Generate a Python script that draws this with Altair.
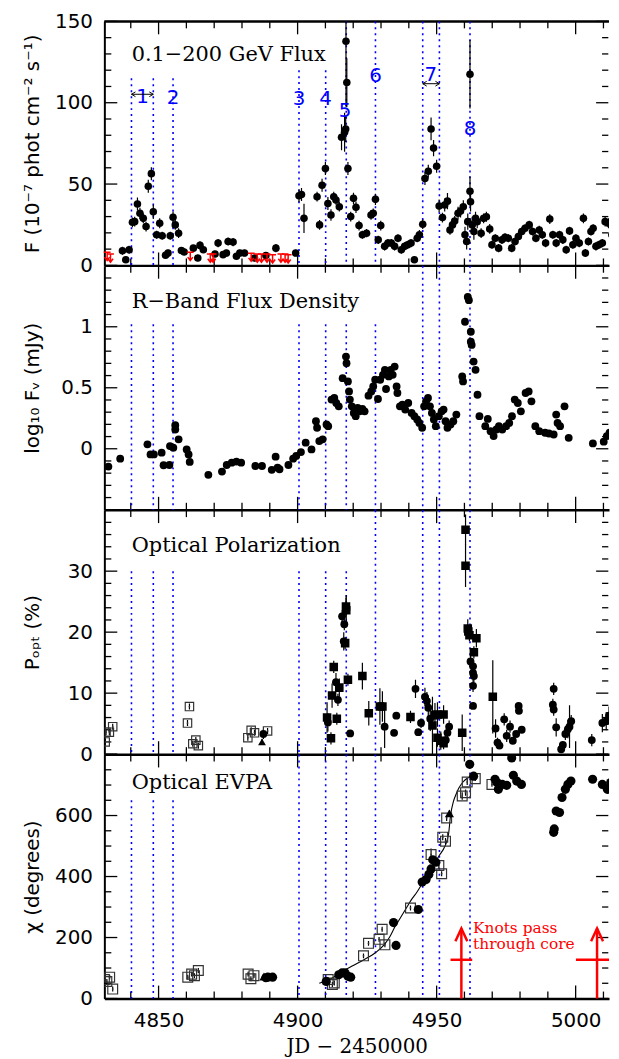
import altair as alt
import pandas as pd

# ---------------- data ----------------
GAM_JD = [4837.0, 4838.2, 4839.4, 4840.6, 4841.4, 4842.4, 4843.3, 4844.5, 4845.5, 4846.3,
          4847.4, 4848.1, 4849.3, 4850.4, 4851.3, 4852.5, 4853.4, 4854.2, 4855.2, 4856.0,
          4857.2, 4858.2, 4859.2, 4862.5, 4864.1, 4864.9, 4866.1, 4870.3, 4871.4, 4873.2,
          4874.4, 4875.0, 4876.8, 4878.0, 4879.2, 4880.9, 4884.5, 4888.6, 4892.2, 4899.3,
          4900.5, 4901.4, 4902.3, 4907.0, 4907.9, 4908.8, 4910.0, 4910.9, 4912.0, 4913.0,
          4913.8, 4915.0, 4915.8, 4916.9, 4917.3, 4917.7, 4917.4, 4918.1, 4919.1, 4920.1,
          4921.0, 4922.1, 4923.3, 4924.8, 4926.4, 4927.2, 4928.0, 4929.0, 4929.9, 4931.3,
          4932.5, 4933.7, 4934.9, 4936.1, 4937.3, 4938.5, 4939.6, 4940.8, 4942.0, 4943.0,
          4943.8, 4945.0, 4945.8, 4947.0, 4948.0, 4948.9, 4950.0, 4950.9, 4952.1, 4952.9,
          4953.9, 4954.8, 4955.7, 4956.5, 4957.7, 4958.6, 4959.6, 4960.2, 4960.8, 4961.2,
          4962.0, 4962.0, 4962.2, 4962.8, 4963.4, 4964.0, 4964.6, 4966.0, 4966.9, 4967.9,
          4969.1, 4969.9, 4971.1, 4972.3, 4973.5, 4974.6, 4975.8, 4977.0, 4978.2, 4979.4,
          4980.6, 4981.8, 4983.3, 4984.5, 4985.7, 4986.9, 4988.0, 4989.2, 4990.7, 4991.8,
          4993.0, 4994.2, 4995.4, 4996.6, 4997.8, 4999.0, 5000.1, 5001.3, 5002.8, 5003.5,
          5004.6, 5005.5, 5006.3, 5007.3, 5008.4, 5009.6, 5010.6, 5011.8, 5013.0, 5013.8]
GAM_F = [9.0, 3.5, 9.6, 26.5, 26.9, 37.7, 32.0, 28.9, 23.9, 48.7,
         56.4, 33.0, 18.8, 25.9, 18.2, 6.2, 7.6, 18.2, 29.6, 24.9,
         19.8, 9.2, 8.2, 10.6, 4.5, 12.3, 9.6, 7.0, 13.7, 6.6,
         7.6, 14.7, 14.3, 5.6, 7.6, 7.6, 4.5, 6.0, 10.6, 7.6,
         42.8, 43.6, 28.9, 42.2, 24.9, 49.3, 59.5, 38.1, 31.0, 42.2,
         40.2, 36.1, 78.8, 81.9, 83.9, 112.4, 137.8, 59.5, 30.0, 41.2,
         35.7, 24.5, 18.8, 19.8, 31.0, 32.0, 40.6, 15.7, 24.5, 11.7,
         13.7, 13.7, 11.7, 16.7, 9.6, 11.7, 12.7, 13.7, 3.5, 16.7,
         18.8, 25.3, 53.4, 57.9, 83.9, 72.1, 60.9, 36.5, 29.4, 37.1,
         39.5, 21.8, 24.9, 27.3, 32.0, 33.4, 36.1, 18.8, 14.7, 26.9,
         45.6, 117.5, 39.1, 24.9, 20.8, 28.9, 26.9, 19.8, 28.9, 29.9,
         22.4, 12.7, 16.7, 10.6, 15.7, 17.2, 16.7, 10.6, 14.7, 17.8,
         20.8, 22.8, 24.9, 20.8, 16.7, 21.8, 18.8, 13.7, 28.5, 18.8,
         13.7, 18.8, 15.7, 9.6, 21.2, 12.7, 16.7, 13.7, 28.9, 7.6,
         14.7, 20.8, 22.8, 11.7, 12.7, 13.7, 26.9, 25.9, 18.8, 24.9]
GAM_ERR = [2.5, 2, 2.5, 3, 3, 4, 3.5, 3, 3, 4,
           4, 4.5, 2.5, 3, 2.5, 2, 2, 2.5, 3.5, 3,
           3, 2, 2, 2, 2, 2.5, 2, 2, 2.5, 2,
           2, 2.5, 2.5, 2, 2, 2, 2, 2, 2.5, 2,
           4, 4, 9, 3, 3, 4, 4, 4, 3.5, 3,
           3, 3, 8, 12, 8, 15, 40, 4, 3, 3.5,
           3.5, 3, 2.5, 2.5, 3, 3, 3.5, 2.5, 3, 2.5,
           2.5, 2.5, 2.5, 2.5, 2.5, 2.5, 2.5, 2.5, 2, 2.5,
           3, 3, 4, 4, 7, 5, 4, 4, 3, 4,
           5, 3, 3, 3, 4, 4, 4, 5, 5, 5,
           9, 21, 6, 5, 5, 4, 4, 3, 3, 3,
           3, 2.5, 2.5, 2.5, 2.5, 2.5, 2.5, 2.5, 2.5, 2.5,
           2.5, 2.5, 2.5, 2.5, 2.5, 2.5, 2.5, 2.5, 3, 2.5,
           2.5, 2.5, 2.5, 2.5, 2.5, 2.5, 2.5, 2.5, 3, 2.5,
           2.5, 2.5, 2.5, 2.5, 2.5, 2.5, 3, 3, 2.5, 3]
UL_JD = [4831.5, 4832.7, 4861.4, 4868.6, 4869.6, 4883.3, 4885.5, 4887.0, 4889.0,
         4891.0, 4894.0, 4895.5, 4896.6]
UL_F = [8.0, 7.0, 8.0, 7.0, 7.0, 7.5, 7.0, 7.0, 7.0, 6.5, 7.0, 7.0, 6.5]

R_JD = [4831.95, 4836.2, 4846.0, 4847.1, 4848.3, 4851.1, 4851.8, 4853.9, 4854.1, 4855.3,
        4856.0, 4856.0, 4857.2, 4860.1, 4860.8, 4861.2, 4867.9, 4872.8, 4874.5, 4876.3,
        4878.0, 4879.7, 4884.8, 4887.2, 4890.7, 4892.1, 4892.8, 4893.5, 4896.7, 4898.4,
        4899.5, 4901.2, 4902.9, 4905.0, 4906.6, 4907.0, 4907.8, 4909.0, 4910.4, 4911.0,
        4912.2, 4913.2, 4913.9, 4914.8, 4916.2, 4917.4, 4917.6, 4918.1, 4918.5, 4918.8,
        4919.5, 4920.2, 4920.9, 4921.6, 4922.3, 4923.3, 4924.1, 4925.5, 4926.5, 4927.2,
        4927.9, 4928.9, 4929.7, 4930.7, 4931.4, 4931.8, 4932.8, 4933.5, 4934.2, 4934.9,
        4935.6, 4935.9, 4936.8, 4937.7, 4938.7, 4939.8, 4941.0, 4942.0, 4943.0, 4943.8,
        4944.8, 4945.5, 4946.2, 4946.9, 4947.6, 4948.3, 4949.0, 4949.7, 4950.8, 4951.8,
        4952.5, 4953.2, 4953.9, 4955.0, 4956.0, 4957.1, 4959.2, 4959.5, 4960.2, 4961.2,
        4961.6, 4962.3, 4962.3, 4962.6, 4963.3, 4964.0, 4964.7, 4965.4, 4967.5, 4968.4,
        4969.4, 4970.5, 4971.5, 4972.4, 4973.6, 4975.0, 4976.1, 4977.1, 4978.1, 4979.2,
        4980.3, 4982.0, 4983.1, 4984.1, 4985.5, 4986.9, 4989.0, 4990.4, 4992.1, 4993.0,
        4993.5, 4994.4, 4996.0, 4997.5, 5006.2, 5010.1, 5011.2, 5012.2]
R_LOGF = [-0.146, -0.081, 0.036, -0.046, -0.046, -0.032, -0.135, -0.133, 0.022, 0.009,
          0.193, 0.158, 0.077, -0.005, -0.046, -0.108, -0.214, -0.187, -0.133, -0.114,
          -0.105, -0.114, -0.141, -0.141, -0.173, -0.065, -0.154, -0.168, -0.133, -0.081,
          -0.059, -0.027, 0.05, -0.005, 0.226, 0.172, 0.063, 0.077, 0.199, 0.185,
          0.403, 0.416, 0.375, 0.348, 0.579, 0.756, 0.701, 0.552, 0.470, 0.403,
          0.348, 0.294, 0.267, 0.335, 0.307, 0.326, 0.307, 0.435, 0.470, 0.511,
          0.566, 0.408, 0.566, 0.606, 0.647, 0.490, 0.593, 0.647, 0.606, 0.674,
          0.511, 0.457, 0.348, 0.362, 0.321, 0.375, 0.294, 0.267, 0.240, 0.212,
          0.172, 0.348, 0.389, 0.416, 0.348, 0.294, 0.240, 0.185, 0.267, 0.307,
          0.321, 0.226, 0.172, 0.199, 0.226, 0.280, 0.593, 0.552, 1.041, 1.245,
          1.218, 0.959, 0.878, 0.851, 0.715, 0.647, 0.443, 0.267, 0.185, 0.245,
          0.144, 0.104, 0.158, 0.185, 0.158, 0.185, 0.212, 0.267, 0.403, 0.375,
          0.307, 0.457, 0.470, 0.389, 0.185, 0.144, 0.131, 0.125, 0.117, 0.280,
          0.212, 0.185, 0.348, 0.090, 0.044, 0.058, 0.104, 0.131]

# kinds: sq = filled square, ci = filled circle, os = open square, tr = filled triangle
POL_JD = [4830.8, 4831.1, 4832.3, 4833.5, 4860.4, 4861.1, 4862.3, 4863.4, 4864.3, 4882.1,
          4883.3, 4884.5, 4889.2, 4887.7, 4887.2, 4910.6, 4910.9, 4912.0, 4913.0, 4912.4,
          4913.8, 4915.0, 4914.5, 4914.1, 4916.0, 4916.8, 4916.6, 4917.1, 4917.5, 4917.4,
          4918.1, 4918.9, 4923.3, 4925.6, 4929.6, 4930.5, 4931.3, 4934.7, 4935.5, 4940.6,
          4942.4, 4943.4, 4944.4, 4945.8, 4946.5, 4947.0, 4947.7, 4948.5, 4949.4, 4950.3,
          4952.5, 4950.3, 4951.5, 4952.5, 4953.3, 4953.9, 4954.5, 4959.2, 4960.4, 4960.4,
          4961.2, 4961.4, 4961.8, 4964.3, 4963.4, 4962.2, 4963.1, 4963.1, 4963.4, 4963.1,
          4963.1, 4962.2, 4970.2, 4971.2, 4971.9, 4972.6, 4974.3, 4975.2, 4976.4, 4977.4,
          4978.6, 4979.5, 4979.6, 4980.6, 4976.4, 4992.1, 4991.8, 4992.1, 4993.0, 4994.8,
          4995.4, 4996.3, 4997.2, 4997.8, 4998.4, 5005.8, 5009.6, 5011.0, 5012.0]
POL_P = [2.0, 3.6, 3.6, 4.5, 5.1, 7.8, 1.7, 2.3, 1.4, 2.7,
         3.9, 3.5, 3.8, 3.3, 2.0, 6.0, 5.2, 2.6, 14.3, 9.6,
         11.8, 10.9, 8.9, 5.8, 22.6, 21.3, 18.5, 18.2, 23.6, 24.2,
         12.2, 3.4, 12.8, 6.7, 7.8, 7.8, 4.5, 3.5, 6.3, 6.1,
         10.7, 3.6, 5.1, 9.4, 8.7, 7.6, 5.8, 4.7, 6.4, 6.5,
         6.5, 2.7, 2.2, 1.8, 2.3, 3.5, 4.5, 3.5, 36.8, 30.9,
         20.6, 20.1, 19.5, 19.0, 16.7, 15.2, 14.4, 13.3, 12.8, 11.2,
         7.9, -1.2, 9.4, 4.2, 1.9, 1.4, 5.7, 3.0, 4.5, 2.2,
         3.3, 7.9, 7.1, 4.0, -0.7, 10.7, 8.1, 7.3, 4.4, 0.8,
         1.5, 3.3, 4.1, 4.5, 5.4, 2.3, 5.1, 5.4, 6.3]
POL_ERR = [0.5, 0.5, 0.5, 0.5, 0.5, 0.5, 0.5, 0.5, 0.5, 0.5,
           0.5, 0.5, 0.5, 0.8, 0.5, 2.5, 1.5, 1.0, 1.0, 2.0,
           1.5, 1.5, 1.0, 1.0, 1.0, 1.0, 1.5, 1.0, 2.5, 1.5,
           1.0, 0.5, 2.2, 2.0, 3.0, 2.5, 3.5, 0.5, 0.5, 1.0,
           1.5, 0.5, 0.8, 1.5, 1.5, 2.0, 2.0, 4.7, 2.0, 2.0,
           1.5, 1.5, 1.5, 1.0, 1.0, 1.0, 1.0, 3.0, 2.5, 3.5,
           1.5, 1.0, 1.0, 1.5, 1.0, 1.0, 1.0, 1.0, 1.0, 1.0,
           0.5, 0.5, 6.0, 1.5, 0.8, 0.5, 1.0, 1.0, 1.0, 0.5,
           0.5, 0.5, 0.5, 0.5, 0.5, 1.0, 1.0, 1.0, 1.5, 0.5,
           0.5, 1.0, 1.5, 3.5, 1.0, 1.0, 1.5, 1.5, 1.5]
POL_KIND = ["os", "os", "os", "os", "os", "os", "os", "os", "os", "os",
            "os", "os", "os", "ci", "tr", "sq", "ci", "sq", "sq", "sq",
            "ci", "sq", "ci", "sq", "ci", "ci", "ci", "sq", "sq", "sq",
            "sq", "ci", "sq", "sq", "sq", "sq", "ci", "ci", "ci", "sq",
            "ci", "ci", "ci", "ci", "ci", "ci", "ci", "sq", "sq", "sq",
            "sq", "sq", "sq", "sq", "ci", "ci", "ci", "sq", "sq", "sq",
            "sq", "sq", "sq", "sq", "sq", "ci", "ci", "ci", "ci", "ci",
            "ci", "ci", "sq", "ci", "ci", "ci", "ci", "ci", "ci", "ci",
            "ci", "ci", "ci", "ci", "ci", "ci", "ci", "ci", "ci", "ci",
            "ci", "ci", "ci", "ci", "ci", "ci", "ci", "ci", "ci"]

EVPA_JD = [4830.5, 4831.4, 4832.4, 4833.5, 4860.5, 4861.9, 4862.9, 4864.3, 4882.2, 4883.2,
           4884.3, 4887.9, 4888.6, 4889.3, 4891.0, 4910.3, 4911.0, 4912.5, 4913.2, 4914.8,
           4916.0, 4917.1, 4918.1, 4919.1, 4923.7, 4925.5, 4929.3, 4930.4, 4931.4, 4934.5,
           4935.4, 4940.6, 4943.4, 4944.8, 4946.2, 4947.2, 4948.0, 4948.6, 4949.7, 4948.0,
           4950.8, 4951.8, 4952.2, 4953.2, 4953.6, 4954.6, 4959.2, 4960.4, 4961.0, 4961.9,
           4963.3, 4963.9, 4969.9, 4971.0, 4971.7, 4972.2, 4973.6, 4975.2, 4977.0, 4977.6,
           4978.8, 4980.5, 4992.1, 4992.3, 4993.0, 4994.2, 4995.1, 4996.3, 4997.2, 4998.3,
           5006.1, 5009.6, 5011.4, 5012.6]
EVPA_CHI = [62, 56, 70, 31, 70, 80, 75, 92, 80, 65,
            75, 72, 68, 70, 70, 56, 62, 46, 51, 78,
            84, 84, 73, 70, 140, 181, 194, 227, 176, 249,
            174, 297, 292, 382, 390, 407, 425, 455, 447, 472,
            436, 409, 529, 516, 592, 607, 664, 675, 710, 768,
            729, 721, 702, 719, 708, 686, 702, 699, 789, 732,
            713, 702, 545, 556, 615, 610, 659, 686, 702, 713,
            719, 702, 686, 708]
EVPA_ERR = [8, 8, 8, 8, 8, 8, 8, 8, 8, 8,
            8, 8, 5, 5, 5, 8, 8, 8, 8, 6,
            6, 6, 6, 6, 8, 8, 8, 8, 8, 8,
            8, 8, 8, 8, 8, 8, 8, 8, 8, 20,
            12, 8, 10, 10, 10, 10, 12, 10, 10, 8,
            8, 8, 8, 6, 6, 6, 6, 6, 6, 6,
            6, 6, 6, 6, 6, 6, 6, 6, 6, 6,
            6, 6, 6, 6]
EVPA_KIND = ["os", "os", "os", "os", "os", "os", "os", "os", "os", "os",
             "os", "tr", "ci", "ci", "ci", "ci", "os", "os", "os", "ci",
             "ci", "ci", "ci", "ci", "os", "os", "os", "os", "os", "ci",
             "ci", "os", "ci", "ci", "ci", "ci", "ci", "ci", "ci", "os",
             "os", "os", "os", "os", "os", "tr", "os", "os", "os", "ci",
             "ci", "os", "os", "ci", "ci", "ci", "ci", "ci", "ci", "ci",
             "ci", "ci", "ci", "ci", "ci", "ci", "ci", "ci", "ci", "ci",
             "ci", "ci", "ci", "ci"]

CURVE_JD = [4907.8, 4912, 4916, 4920, 4924, 4928, 4931, 4933, 4935, 4937, 4939, 4941, 4943,
            4945, 4947, 4949, 4951, 4953, 4954.3, 4955, 4956, 4957, 4958, 4959.5, 4961, 4962.5]
CURVE_CHI = [50, 65, 88, 108, 128, 150, 175, 200, 235, 265, 295, 325, 350,
             380, 410, 440, 470, 500, 540, 600, 645, 670, 690, 710, 722, 728]

# flare epochs (blue dotted lines) and where they start in each panel
FLARE_JD = [4840.25, 4848.1, 4855.2, 4900.5, 4910.1, 4917.5, 4928.0, 4945.0, 4951.0, 4962.0]
TOP_P1 = [115, 115, 115, 120, 120, 150, 150, 150, 150, 150]
TOP_P2 = [1.02, 1.02, 1.02, 1.02, 1.02, 1.02, 1.02, 1.5, 1.5, 1.5]
TOP_P3 = [30, 30, 30, 30, 30, 30, 40, 40, 40, 40]
TOP_P4 = [650, 650, 650, 800, 800, 800, 800, 800, 800, 800]

FLARE_LABEL = ["1", "2", "3", "4", "5", "6", "7", "8"]
FLARE_LABEL_JD = [4844.2, 4855.2, 4900.5, 4910.1, 4917.1, 4928.0, 4947.9, 4962.0]
FLARE_LABEL_F = [103.6, 102.6, 102.2, 102.2, 95.0, 116.4, 117.0, 83.9]
SPAN_LO = [4840.25, 4945.0]
SPAN_HI = [4848.1, 4951.0]
SPAN_F = [105.2, 111.7]

XDOM = [4830.5, 5012.0]

KNOT_JD = [4958.9, 5007.7]
KNOT_LO = [4955.0, 5000.1]
KNOT_HI = [4962.8, 5012.0]
KNOT_TIP = 230
KNOT_BAR = 127
KNOT_TEXT = ["Knots pass", "through core"]
KNOT_TEXT_JD = [4963.1, 4963.1]
KNOT_TEXT_CHI = [215, 163]

XLAB = [4850, 4900, 4950, 5000]
XMAJ = [4850, 4900, 4950, 5000]
XMIN = [4840, 4860, 4870, 4880, 4890, 4910, 4920, 4930, 4940, 4960, 4970, 4980, 4990, 5010]

W, H = 508, 245.6
SANS = "DejaVu Sans"
SERIF = "DejaVu Serif"
XS = alt.Scale(domain=XDOM, nice=False, zero=False)


def ysc(d):
    return alt.Scale(domain=d, nice=False, zero=False)


def y_axis(title, values, fmt):
    return alt.Axis(title=title, values=values, format=fmt, ticks=False, domain=True,
                    domainColor="black", domainWidth=2, grid=False,
                    labelFont=SANS, labelFontSize=20, labelColor="black",
                    labelPadding=12, labelOverlap=False, labelFlush=False,
                    titleFont=SANS, titleFontSize=20, titleFontWeight="normal",
                    titleColor="black", titlePadding=10, minExtent=52, maxExtent=52)


def x_axis(last):
    if last:
        return alt.Axis(title="JD − 2450000", values=XLAB, format="d", ticks=False,
                        domain=True, domainColor="black", domainWidth=2.5, grid=False,
                        labelFont=SANS, labelFontSize=20, labelColor="black",
                        labelPadding=12, labelOverlap=False, labelFlush=False,
                        titleFont=SERIF, titleFontSize=20, titleFontWeight="normal",
                        titleColor="black", titlePadding=6)
    return alt.Axis(title=None, labels=False, ticks=False, domain=True,
                    domainColor="black", domainWidth=2.5, grid=False)


def frame(ys, ax, ay, ymaj, ymin, top):
    L = []
    for vals, ln in ((ymaj, 13), (ymin, 7)):
        d = pd.DataFrame({"v": vals})
        L.append(alt.Chart(d).mark_rule(color="black", strokeWidth=1.3).encode(
            y=alt.Y("v:Q", scale=ys, axis=ay), x=alt.value(0), x2=alt.value(ln)))
        L.append(alt.Chart(d).mark_rule(color="black", strokeWidth=1.3).encode(
            y=alt.Y("v:Q", scale=ys, axis=ay), x=alt.value(W - 0.7), x2=alt.value(W - ln)))
    for vals, ln in ((XMAJ, 13), (XMIN, 7)):
        d = pd.DataFrame({"v": vals})
        L.append(alt.Chart(d).mark_rule(color="black", strokeWidth=1.3).encode(
            x=alt.X("v:Q", scale=XS, axis=ax), y=alt.value(H), y2=alt.value(H - ln)))
        L.append(alt.Chart(d).mark_rule(color="black", strokeWidth=1.3).encode(
            x=alt.X("v:Q", scale=XS, axis=ax), y=alt.value(0), y2=alt.value(ln)))
    if top:
        L.append(alt.Chart(pd.DataFrame({"a": [0]})).mark_rule(color="black", strokeWidth=2.5).encode(
            x=alt.value(0), x2=alt.value(W), y=alt.value(0)))
    return L


def flares(ys, ax, ay, tops, bottom):
    d = pd.DataFrame({"jd": FLARE_JD, "top": tops, "bot": [bottom] * len(FLARE_JD)})
    return alt.Chart(d).mark_rule(color="#0000ff", strokeWidth=1.6, strokeDash=[2, 4]).encode(
        x=alt.X("jd:Q", scale=XS, axis=ax), y=alt.Y("top:Q", scale=ys, axis=ay), y2="bot:Q")


def title_text(txt, ybase):
    return alt.Chart(pd.DataFrame({"t": [txt]})).mark_text(
        align="left", baseline="alphabetic", font=SERIF, fontSize=21, color="black").encode(
        x=alt.value(27.5), y=alt.value(ybase), text="t:N")


def errbars(df, ys, ax, ay, field, err):
    d = df.copy()
    d["lo"] = d[field] - d[err]
    d["hi"] = d[field] + d[err]
    return alt.Chart(d).mark_rule(color="black", strokeWidth=1.2, clip=True).encode(
        x=alt.X("jd:Q", scale=XS, axis=ax), y=alt.Y("lo:Q", scale=ys, axis=ay), y2="hi:Q")


def symbols(df, ys, ax, ay, field, size):
    out = []
    enc = dict(x=alt.X("jd:Q", scale=XS, axis=ax), y=alt.Y(field + ":Q", scale=ys, axis=ay))
    parts = {k: df[df["kind"] == k] for k in ["os", "sq", "ci", "tr"]}
    if len(parts["os"]):
        out.append(alt.Chart(parts["os"]).mark_point(shape="square", filled=False, size=size * 1.15,
                                                     color="#333333", strokeWidth=1.2, opacity=1,
                                                     clip=True).encode(**enc))
        out.append(alt.Chart(parts["os"]).mark_circle(size=3, color="#333333", opacity=1,
                                                      clip=True).encode(**enc))
    if len(parts["sq"]):
        out.append(alt.Chart(parts["sq"]).mark_point(shape="square", filled=True, size=size * 1.2,
                                                     color="black", opacity=1, clip=True).encode(**enc))
    if len(parts["ci"]):
        out.append(alt.Chart(parts["ci"]).mark_circle(size=size, color="black", opacity=1,
                                                      clip=True).encode(**enc))
    if len(parts["tr"]):
        out.append(alt.Chart(parts["tr"]).mark_point(shape="triangle-up", filled=True, size=size,
                                                     color="black", opacity=1, clip=True).encode(**enc))
    return out


# ---------------- panel 1: gamma-ray flux ----------------
ys1 = ysc([0, 150])
ax1 = x_axis(False)
ay1 = y_axis("F (10⁻⁷ phot cm⁻² s⁻¹)", [0, 50, 100, 150], "d")
gam = pd.DataFrame({"jd": GAM_JD, "f": GAM_F, "err": GAM_ERR})
ul = pd.DataFrame({"jd": UL_JD, "f": UL_F})
lab = pd.DataFrame({"jd": FLARE_LABEL_JD, "f": FLARE_LABEL_F, "t": FLARE_LABEL})
span = pd.DataFrame({"lo": SPAN_LO, "hi": SPAN_HI, "f": SPAN_F})

p1_layers = frame(ys1, ax1, ay1, [0, 50, 100, 150],
                  [v for v in range(10, 150, 10) if v % 50], True)
p1_layers += [
    flares(ys1, ax1, ay1, TOP_P1, 0),
    errbars(gam, ys1, ax1, ay1, "f", "err"),
    alt.Chart(gam).mark_circle(size=58, color="black", opacity=1, clip=True).encode(
        x=alt.X("jd:Q", scale=XS, axis=ax1), y=alt.Y("f:Q", scale=ys1, axis=ay1)),
    alt.Chart(ul).mark_point(shape="M-0.4,0L0.4,0M0,0L0,0.95M-0.3,0.55L0,0.95L0.3,0.55",
                             filled=False, size=300, color="#ff0000", strokeWidth=1.5,
                             opacity=1).encode(
        x=alt.X("jd:Q", scale=XS, axis=ax1), y=alt.Y("f:Q", scale=ys1, axis=ay1)),
    alt.Chart(lab).mark_text(font=SANS, fontSize=20, color="#0000ff", baseline="middle").encode(
        x=alt.X("jd:Q", scale=XS, axis=ax1), y=alt.Y("f:Q", scale=ys1, axis=ay1), text="t:N"),
    alt.Chart(span).mark_rule(color="black", strokeWidth=1).encode(
        x=alt.X("lo:Q", scale=XS, axis=ax1), x2="hi:Q", y=alt.Y("f:Q", scale=ys1, axis=ay1)),
    alt.Chart(span).mark_point(shape="M1,-0.6L0,0L1,0.6", filled=False, size=64,
                               color="black", strokeWidth=1, opacity=1).encode(
        x=alt.X("lo:Q", scale=XS, axis=ax1), y=alt.Y("f:Q", scale=ys1, axis=ay1)),
    alt.Chart(span).mark_point(shape="M-1,-0.6L0,0L-1,0.6", filled=False, size=64,
                               color="black", strokeWidth=1, opacity=1).encode(
        x=alt.X("hi:Q", scale=XS, axis=ax1), y=alt.Y("f:Q", scale=ys1, axis=ay1)),
    title_text("0.1−200 GeV Flux", 40),
]
p1 = alt.layer(*p1_layers).properties(width=W, height=H)

# ---------------- panel 2: R-band ----------------
ys2 = ysc([-0.5, 1.5])
ax2 = x_axis(False)
ay2 = y_axis("log₁₀ Fᵥ (mJy)", [0, 0.5, 1], "~g")
rb = pd.DataFrame({"jd": R_JD, "l": R_LOGF})
p2_layers = frame(ys2, ax2, ay2, [-0.5, 0, 0.5, 1, 1.5],
                  [-0.4, -0.3, -0.2, -0.1, 0.1, 0.2, 0.3, 0.4, 0.6, 0.7, 0.8, 0.9,
                   1.1, 1.2, 1.3, 1.4], False)
p2_layers += [
    flares(ys2, ax2, ay2, TOP_P2, -0.5),
    alt.Chart(rb).mark_circle(size=62, color="black", opacity=1, clip=True).encode(
        x=alt.X("jd:Q", scale=XS, axis=ax2), y=alt.Y("l:Q", scale=ys2, axis=ay2)),
    title_text("R−Band Flux Density", 42.6),
]
p2 = alt.layer(*p2_layers).properties(width=W, height=H)

# ---------------- panel 3: polarization ----------------
ys3 = ysc([0, 40])
ax3 = x_axis(False)
ay3 = y_axis("Pₒₚₜ (%)", [0, 10, 20, 30], "d")
pol = pd.DataFrame({"jd": POL_JD, "p": POL_P, "err": POL_ERR, "kind": POL_KIND})
p3_layers = frame(ys3, ax3, ay3, [0, 10, 20, 30, 40],
                  [v for v in range(2, 40, 2) if v % 10], False)
p3_layers += [flares(ys3, ax3, ay3, TOP_P3, 0), errbars(pol, ys3, ax3, ay3, "p", "err")]
p3_layers += symbols(pol, ys3, ax3, ay3, "p", 62)
p3_layers += [title_text("Optical Polarization", 42.3)]
p3 = alt.layer(*p3_layers).properties(width=W, height=H)

# ---------------- panel 4: EVPA ----------------
ys4 = ysc([0, 800])
ax4 = x_axis(True)
ay4 = y_axis("χ (degrees)", [0, 200, 400, 600], "d")
ev = pd.DataFrame({"jd": EVPA_JD, "c": EVPA_CHI, "err": EVPA_ERR, "kind": EVPA_KIND})
cur = pd.DataFrame({"jd": CURVE_JD, "c": CURVE_CHI})
knot = pd.DataFrame({"jd": KNOT_JD, "lo": KNOT_LO, "hi": KNOT_HI,
                     "tip": [KNOT_TIP] * 2, "bar": [KNOT_BAR] * 2, "z": [0, 0]})
ktxt = pd.DataFrame({"jd": KNOT_TEXT_JD, "c": KNOT_TEXT_CHI, "t": KNOT_TEXT})
p4_layers = frame(ys4, ax4, ay4, [0, 200, 400, 600, 800],
                  [v for v in range(50, 800, 50) if v % 200], False)
p4_layers += [flares(ys4, ax4, ay4, TOP_P4, 0), errbars(ev, ys4, ax4, ay4, "c", "err"),
              alt.Chart(cur).mark_line(color="black", strokeWidth=1.1, interpolate="monotone").encode(
                  x=alt.X("jd:Q", scale=XS, axis=ax4), y=alt.Y("c:Q", scale=ys4, axis=ay4))]
p4_layers += symbols(ev, ys4, ax4, ay4, "c", 85)
p4_layers += [
    alt.Chart(knot).mark_rule(color="#ff0000", strokeWidth=2.5).encode(
        x=alt.X("jd:Q", scale=XS, axis=ax4), y=alt.Y("z:Q", scale=ys4, axis=ay4), y2="tip:Q"),
    alt.Chart(knot).mark_rule(color="#ff0000", strokeWidth=2.5).encode(
        x=alt.X("lo:Q", scale=XS, axis=ax4), x2="hi:Q", y=alt.Y("bar:Q", scale=ys4, axis=ay4)),
    alt.Chart(knot).mark_point(shape="M-0.3,0.65L0,0L0.3,0.65", filled=False, size=1600,
                               color="#ff0000", strokeWidth=2.5, opacity=1).encode(
        x=alt.X("jd:Q", scale=XS, axis=ax4), y=alt.Y("tip:Q", scale=ys4, axis=ay4)),
    alt.Chart(ktxt).mark_text(align="left", baseline="alphabetic", font=SERIF, fontSize=15.5,
                              color="#ff0000").encode(
        x=alt.X("jd:Q", scale=XS, axis=ax4), y=alt.Y("c:Q", scale=ys4, axis=ay4), text="t:N"),
    title_text("Optical EVPA", 35),
]
p4 = alt.layer(*p4_layers).properties(width=W, height=H)

chart = alt.vconcat(p1, p2, p3, p4, spacing=0, bounds="flush").properties(
    padding={"left": 15, "top": 0, "right": 0, "bottom": 0},
    background="white",
).configure_view(stroke=None)

chart.save("out.html", embed_options={"renderer": "svg", "actions": False})
